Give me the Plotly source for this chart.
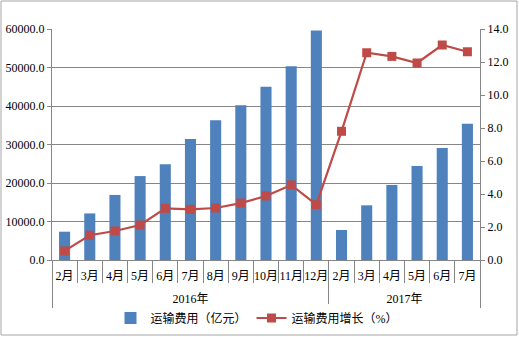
import plotly.graph_objects as go

years = ["2016年", "2017年"]
year_counts = [11, 6]
months = ["2月", "3月", "4月", "5月", "6月", "7月", "8月", "9月", "10月", "11月", "12月",
          "2月", "3月", "4月", "5月", "6月", "7月"]
cost = [7350, 12100, 16900, 21800, 24900, 31400, 36300, 40200, 45000, 50300, 59600,
        7800, 14200, 19500, 24400, 29100, 35400]
growth = [0.55, 1.5, 1.76, 2.12, 3.13, 3.07, 3.15, 3.45, 3.88, 4.55, 3.35,
          7.8, 12.56, 12.34, 11.94, 13.03, 12.62]

bar_name = "运输费用（亿元）"
line_name = "运输费用增长（%）"

font_fam = "Liberation Serif, Noto Sans CJK SC, serif"

n = len(months)
idx = list(range(n))
bounds = [-0.5]
for c in year_counts:
    bounds.append(bounds[-1] + c)
year_centers = [(bounds[i] + bounds[i + 1]) / 2 for i in range(len(years))]

fig = go.Figure()
fig.add_trace(go.Bar(x=idx, y=cost, name=bar_name,
                     marker=dict(color="#4F81BD", line=dict(width=0))))
fig.add_trace(go.Scatter(x=idx, y=growth, name=line_name, yaxis="y2",
                         mode="lines+markers",
                         line=dict(color="#BE4B48", width=2.2),
                         marker=dict(symbol="square", size=9, color="#BE4B48")))
fig.add_trace(go.Scatter(x=[year_centers[0]], y=[None], xaxis="x2", showlegend=False,
                         hoverinfo="skip"))

W, H = 519, 337
L, R, T, B = 52, 480, 29, 260
pw, ph = R - L, B - T

grey = "#868686"
clear = "rgba(0,0,0,0)"

fig.update_layout(
    width=W, height=H,
    margin=dict(l=L, r=W - R, t=T, b=H - B, autoexpand=False),
    paper_bgcolor="white", plot_bgcolor="white",
    font=dict(family=font_fam, size=12, color="#000000"),
    bargap=0.56,
    showlegend=True,
    legend=dict(orientation="h", xref="container", yref="container",
                x=257 / W, xanchor="center", y=1 - 318 / H, yanchor="middle",
                font=dict(size=12), itemwidth=30, traceorder="normal"),
    xaxis=dict(range=[-0.5, n - 0.5], autorange=False, automargin=False,
               showline=True, linecolor=grey, linewidth=1, showgrid=False, zeroline=False,
               tickmode="array", tickvals=idx, ticktext=months,
               ticks="outside", ticklen=5, tickcolor=clear, tickangle=0,
               tickfont=dict(size=12),
               minor=dict(tickmode="array", tickvals=[i - 0.5 for i in range(n + 1)],
                          ticks="outside", ticklen=22, tickcolor=grey, showgrid=False)),
    xaxis2=dict(range=[-0.5, n - 0.5], autorange=False, automargin=False,
                overlaying="x", side="bottom", anchor="y",
                showline=False, showgrid=False, zeroline=False,
                tickmode="array", tickvals=year_centers, ticktext=years,
                ticks="outside", ticklen=28, tickcolor=clear, tickangle=0,
                tickfont=dict(size=12),
                minor=dict(tickmode="array", tickvals=bounds,
                           ticks="outside", ticklen=47, tickcolor=grey, showgrid=False)),
    yaxis=dict(range=[0, 60000], dtick=10000, tickformat=".1f", showgrid=True,
               gridcolor=grey, gridwidth=1, showline=True, linecolor=grey,
               ticks="outside", ticklen=4, tickcolor=grey, zeroline=False,
               tickfont=dict(size=12), automargin=False),
    yaxis2=dict(range=[0, 14], dtick=2, tickformat=".1f", overlaying="y", side="right",
                showgrid=False, showline=True, linecolor=grey,
                ticks="outside", ticklen=4, tickcolor=grey, zeroline=False,
                tickfont=dict(size=12), automargin=False),
)

fig.add_shape(type="rect", xref="paper", yref="paper",
              x0=(1 - L) / pw, x1=(517 - L) / pw,
              y0=(B - 335) / ph, y1=(B - 1) / ph,
              line=dict(color="#A6A6A6", width=1))

fig.write_html("out.html")
